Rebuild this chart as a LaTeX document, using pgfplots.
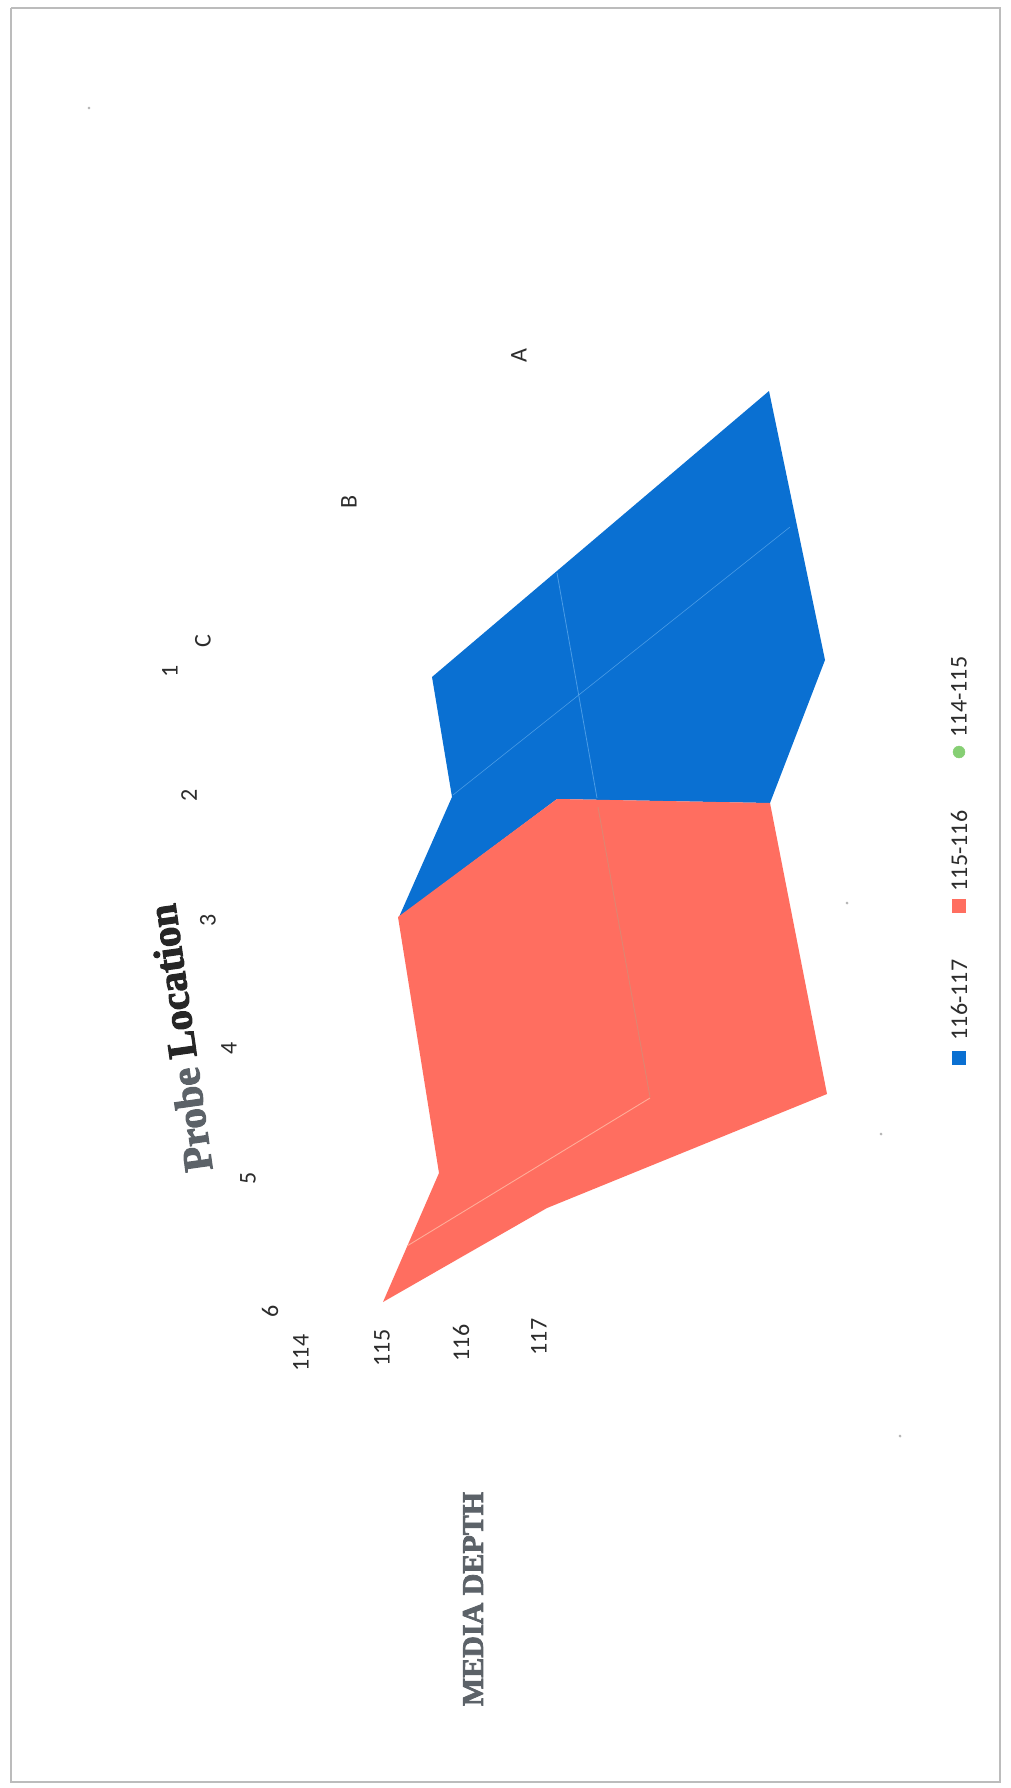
\documentclass[border=0pt]{standalone}
\usepackage{pgfplots}
\usepackage{fontspec}
\pgfplotsset{compat=1.18}
\setmainfont{Carlito}
\newfontfamily\heavy[FakeBold=2.6]{Liberation Serif Bold}
\definecolor{surfblue}{HTML}{0A70D2}
\definecolor{surfred}{HTML}{FF6E60}
\definecolor{gridblue}{HTML}{4A9CE6}
\definecolor{gridred}{HTML}{E08470}
\definecolor{gridpale}{HTML}{FFAC98}
\definecolor{framegrey}{HTML}{BCBCBC}
\definecolor{labelgrey}{HTML}{5C6268}
\definecolor{legendgreen}{HTML}{86CF74}
\definecolor{ticktext}{HTML}{2C2C2C}
\newcommand{\ticksize}{\fontsize{24}{28}\selectfont\color{ticktext}}
\begin{document}
\begin{tikzpicture}
\begin{axis}[
  width=1010pt, height=1788pt, scale only axis,
  xmin=0, xmax=1010, ymin=0, ymax=1788, y dir=reverse,
  hide axis, clip=true,
  every axis plot/.append style={mark=none},
]
% page background and frame
\addplot[fill=white, draw=none] coordinates {(0,0) (1010,0) (1010,1788) (0,1788) (0,0)};
\addplot[draw=framegrey, line width=1.8pt] coordinates {(11,8) (1000,8) (1000,1782) (11,1782) (11,8)};

% upper band of the surface, 116-117
\addplot[fill=surfblue, draw=none] coordinates {
  (769,391) (825,660) (770,803) (557,799) (399,917) (452,797) (432,677) (769,391)};
\addplot[draw=gridblue, line width=0.8pt] coordinates {(557,573) (597,798)};
\addplot[draw=gridblue, line width=0.6pt] coordinates {(790,527) (453,795)};

% lower band of the surface, 115-116
\addplot[fill=surfred, draw=none] coordinates {
  (557,799) (770,803) (827,1094) (547,1208) (383,1302) (439,1173) (398,917) (557,799)};
\addplot[draw=gridred, line width=1pt] coordinates {(598,807) (650,1097)};
\addplot[draw=gridpale, line width=0.9pt] coordinates {(650,1098) (407,1246)};

% legend keys
\addplot[only marks, mark=square*, mark size=6.5pt, color=surfblue] coordinates {(959,1058)};
\addplot[only marks, mark=square*, mark size=6.5pt, color=surfred] coordinates {(959,906)};
\addplot[only marks, mark=*, mark size=6pt, color=legendgreen] coordinates {(959,752)};

% stray dots on the sheet
\addplot[only marks, mark=*, mark size=1.2pt, color=black!30] coordinates {(847,903) (881,1134) (900,1436) (89,108)};

% legend text
\node[rotate=90, font=\ticksize] at (axis cs:959,1000) {116-117};
\node[rotate=90, font=\ticksize] at (axis cs:959,851) {115-116};
\node[rotate=90, font=\ticksize] at (axis cs:959,697) {114-115};

% series axis
\node[rotate=90, font=\ticksize] at (axis cs:519,356) {A};
\node[rotate=90, font=\ticksize] at (axis cs:349,502) {B};
\node[rotate=90, font=\ticksize] at (axis cs:203,641) {C};

% probe axis
\node[rotate=90, font=\ticksize] at (axis cs:170,671) {1};
\node[rotate=90, font=\ticksize] at (axis cs:189,795) {2};
\node[rotate=90, font=\ticksize] at (axis cs:208,920) {3};
\node[rotate=90, font=\ticksize] at (axis cs:229,1048) {4};
\node[rotate=90, font=\ticksize] at (axis cs:248,1178) {5};
\node[rotate=90, font=\ticksize] at (axis cs:270,1311) {6};

% depth axis
\node[rotate=90, font=\ticksize] at (axis cs:301,1353) {114};
\node[rotate=90, font=\ticksize] at (axis cs:382,1348) {115};
\node[rotate=90, font=\ticksize] at (axis cs:461,1343) {116};
\node[rotate=90, font=\ticksize] at (axis cs:539,1337) {117};

% axis titles
\node[rotate=98, font=\heavy\fontsize{41}{44}\selectfont, inner sep=0pt] at (axis cs:180,1038)
  {\textcolor{labelgrey}{Probe} \textcolor{black!85}{Location}};
\node[rotate=90, font=\heavy\fontsize{30}{34}\selectfont, text=labelgrey, inner sep=0pt] at (axis cs:473,1599)
  {MEDIA DEPTH};
\end{axis}
\end{tikzpicture}
\end{document}
